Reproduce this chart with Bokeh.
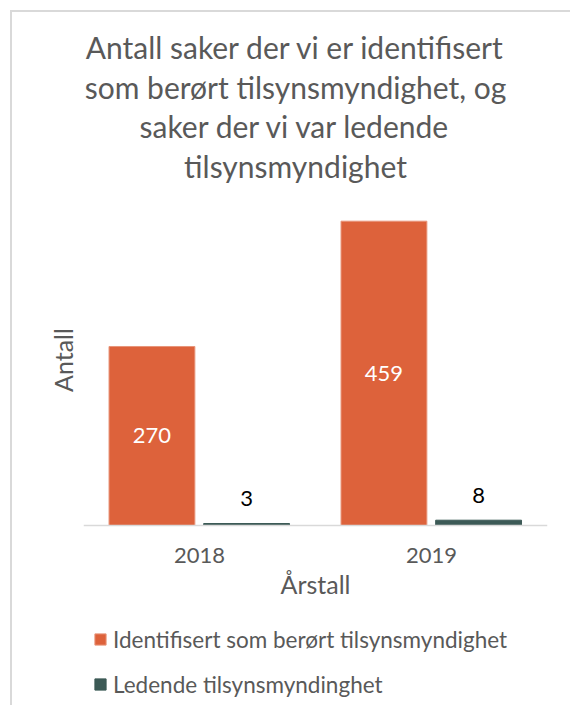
import math
from bokeh.plotting import figure
from bokeh.models import (ColumnDataSource, FactorRange, Range1d, LabelSet, Label, Legend,
                          LegendItem, FixedTicker)
from bokeh.transform import dodge
from bokeh.core.properties import value
from bokeh.embed import file_html
from bokeh.resources import INLINE

# ---- data ----
years = ["2018", "2019"]
identifisert = [270, 459]
ledende = [3, 8]
series_names = ["Identifisert som berørt tilsynsmyndighet", "Ledende tilsynsmyndinghet"]
title_lines = ["Antall saker der vi er identifisert",
               "som berørt tilsynsmyndighet, og",
               "saker der vi var ledende",
               "tilsynsmyndighet"]
x_title = "Årstall"
y_title = "Antall"
y_max = 500

# ---- style / layout ----
FONT = "Lato"
GRAY = "#595959"
ORANGE = "#DD623B"
GREEN = "#3C5A56"
AXIS = "#D9D9D9"

W, H = 560, 695            # canvas size
FRAME_LEFT, FRAME_RIGHT = 71, 25
AXIS_Y = 513               # canvas y of value 0
PLOT_H = 331.5             # pixels from 0 to y_max
px_per_unit = PLOT_H / y_max
y_start = -(H - AXIS_Y) / px_per_unit
y_end = AXIS_Y / px_per_unit

src = ColumnDataSource(dict(
    year=years,
    ident=identifisert,
    led=ledende,
    ident_mid=[v / 2 for v in identifisert],
    ident_txt=[str(v) for v in identifisert],
    led_txt=[str(v) for v in ledende],
))

p = figure(x_range=FactorRange(*years), y_range=Range1d(y_start, y_end),
           width=W, height=H, output_backend="svg", toolbar_location=None,
           min_border_left=FRAME_LEFT, min_border_right=FRAME_RIGHT,
           min_border_top=0, min_border_bottom=0)
p.styles = {"border-left": "2px solid #D9D9D9", "border-top": "2px solid #D9D9D9",
            "margin-left": "10px", "margin-top": "10px"}
p.title.visible = False
p.outline_line_color = None
p.xgrid.visible = False
p.ygrid.visible = False
p.background_fill_color = "white"
p.border_fill_color = "white"

ax = p.xaxis[0]
ax.fixed_location = 0
ax.axis_line_color = AXIS
ax.axis_line_width = 1.5
ax.major_tick_line_color = None
ax.minor_tick_line_color = None
ax.major_label_text_font = FONT
ax.major_label_text_font_size = "22px"
ax.major_label_text_color = GRAY
ax.major_label_standoff = 16
ax.axis_label = x_title
ax.axis_label_text_font = FONT
ax.axis_label_text_font_size = "25px"
ax.axis_label_text_font_style = "normal"
ax.axis_label_text_color = GRAY
ax.axis_label_standoff = 3

yax = p.yaxis[0]
yax.ticker = FixedTicker(ticks=[])
yax.axis_line_color = None
yax.major_tick_line_color = None
yax.minor_tick_line_color = None
yax.major_tick_in = 0
yax.major_tick_out = 0
yax.minor_tick_out = 0
yax.major_label_text_font_size = "0px"
yax.axis_label = y_title
yax.axis_label_text_font = FONT
yax.axis_label_text_font_size = "25px"
yax.axis_label_text_font_style = "normal"
yax.axis_label_text_color = GRAY
yax.axis_label_standoff = 6

r1 = p.vbar(x=dodge("year", -0.205, range=p.x_range), top="ident", width=0.37,
            source=src, fill_color=ORANGE, line_color="#E8957A", line_width=1)
r2 = p.vbar(x=dodge("year", 0.203, range=p.x_range), top="led", width=0.37,
            source=src, fill_color=GREEN, line_color=GREEN, line_width=1)

p.add_layout(LabelSet(x=dodge("year", -0.205, range=p.x_range), y="ident_mid", text="ident_txt",
                      source=src, text_align="center", text_baseline="middle",
                      text_color="white", text_font=value(FONT), text_font_size="22px"))
p.add_layout(LabelSet(x=dodge("year", 0.203, range=p.x_range), y="led", text="led_txt",
                      source=src, text_align="center", text_baseline="middle", y_offset=25,
                      text_color="black", text_font=value(FONT), text_font_size="22px"))

# title lines (screen units relative to frame bottom-left)
title_baselines = [661, 621, 582, 542]
for line, yb in zip(title_lines, title_baselines):
    p.add_layout(Label(x=212, y=yb, x_units="screen", y_units="screen", text=line,
                       text_align="center", text_baseline="alphabetic",
                       text_font=FONT, text_font_size="30px", text_color=GRAY))

legend = Legend(items=[LegendItem(label=series_names[0], renderers=[r1]),
                       LegendItem(label=series_names[1], renderers=[r2])],
                location=(10, 8), orientation="vertical",
                glyph_width=14, glyph_height=14, label_standoff=6,
                label_text_font=FONT, label_text_font_size="22.5px", label_text_color=GRAY,
                label_height=30, spacing=15, padding=0, margin=0,
                border_line_alpha=0, background_fill_alpha=0)
p.add_layout(legend)

open("out.html", "w").write(file_html(p, INLINE))
